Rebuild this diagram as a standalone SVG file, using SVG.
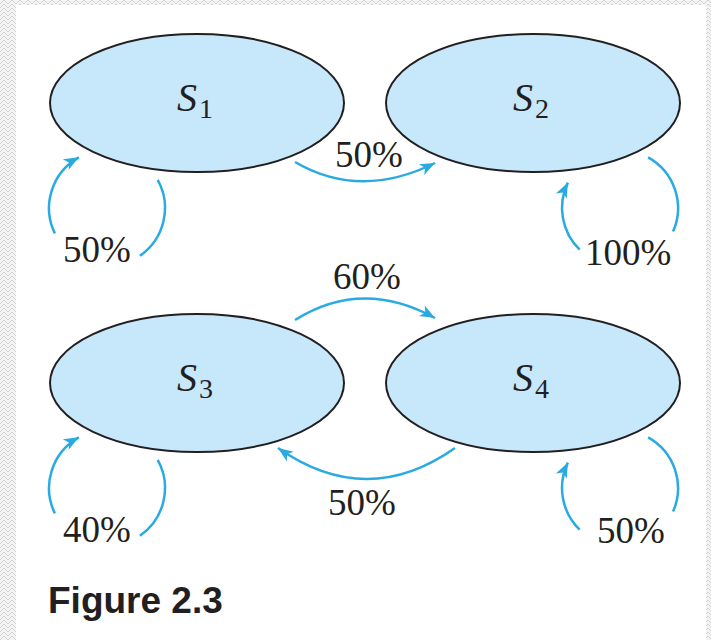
<svg xmlns="http://www.w3.org/2000/svg" width="711" height="640" viewBox="0 0 711 640">
  <defs>
    <pattern id="bg" width="8" height="8" patternUnits="userSpaceOnUse">
      <rect width="8" height="8" fill="#f4f4f4"/>
      <path d="M0,4 L4,0 L8,4 M0,8 L4,4 L8,8" fill="none" stroke="#d2d2d2" stroke-width="1"/>
    </pattern>
    <marker id="ah" markerWidth="18" markerHeight="14" refX="16" refY="7" orient="auto" markerUnits="userSpaceOnUse">
      <path d="M16,7 L1,1 L5,7 L1,13 Z" fill="#29abe2"/>
    </marker>
  </defs>
  <style>
    .state { fill: #c6e8fa; stroke: #231f20; stroke-width: 2; }
    .lbl { font-family: "Liberation Serif", "Times New Roman", serif; font-style: italic; font-size: 40px; fill: #231f20; }
    .sub { font-family: "Liberation Serif", "Times New Roman", serif; font-size: 28px; fill: #231f20; }
    .pct { font-family: "Liberation Serif", "Times New Roman", serif; font-size: 37px; fill: #231f20; }
    .edge { fill: none; stroke: #29abe2; stroke-width: 2.5; }
    .cap { font-family: "Liberation Sans", Arial, sans-serif; font-weight: bold; font-size: 37px; fill: #231f20; }
  </style>

  <rect x="0" y="0" width="711" height="640" fill="url(#bg)"/>
  <rect x="16" y="5" width="690" height="635" fill="#ffffff"/>

  <g id="S1">
    <ellipse class="state" cx="197" cy="103" rx="147" ry="69"/>
    <text class="lbl" x="177" y="111">S</text>
    <text class="sub" x="199" y="118">1</text>
  </g>
  <g id="S2">
    <ellipse class="state" cx="533" cy="103" rx="147" ry="69"/>
    <text class="lbl" x="513" y="111">S</text>
    <text class="sub" x="535" y="118">2</text>
  </g>
  <g id="S3">
    <ellipse class="state" cx="197" cy="383" rx="147" ry="69"/>
    <text class="lbl" x="177" y="391">S</text>
    <text class="sub" x="199" y="398">3</text>
  </g>
  <g id="S4">
    <ellipse class="state" cx="533" cy="383" rx="147" ry="69"/>
    <text class="lbl" x="513" y="391">S</text>
    <text class="sub" x="535" y="398">4</text>
  </g>

  <g id="connectors">
    <!-- S1 self loop -->
    <path class="edge" d="M157.7,179.9 A58,58 0 0 1 139.9,255.8"/>
    <path class="edge" d="M54.9,233.4 A58,58 0 0 1 78.9,157.3" marker-end="url(#ah)"/>
    <!-- S3 self loop -->
    <path class="edge" d="M157.7,459.9 A58,58 0 0 1 139.9,535.8"/>
    <path class="edge" d="M54.9,513.4 A58,58 0 0 1 78.9,437.3" marker-end="url(#ah)"/>
    <!-- S2 self loop -->
    <path class="edge" d="M648.1,157.3 A58,58 0 0 1 673.0,231.6"/>
    <path class="edge" d="M579.7,249.7 A58,58 0 0 1 567.9,182.6" marker-end="url(#ah)"/>
    <!-- S4 self loop -->
    <path class="edge" d="M648.1,437.3 A58,58 0 0 1 673.0,511.6"/>
    <path class="edge" d="M579.7,529.7 A58,58 0 0 1 567.9,462.6" marker-end="url(#ah)"/>
    <!-- S1 -> S2 -->
    <path class="edge" d="M295,162 Q360,200 435,163" marker-end="url(#ah)"/>
    <!-- S3 -> S4 -->
    <path class="edge" d="M295,320 Q362,278 435,318" marker-end="url(#ah)"/>
    <!-- S4 -> S3 -->
    <path class="edge" d="M455,448 Q367,510 278,448" marker-end="url(#ah)"/>

    <text class="pct" x="63" y="262">50%</text>
    <text class="pct" x="335" y="167">50%</text>
    <text class="pct" x="585" y="265">100%</text>
    <text class="pct" x="333" y="289">60%</text>
    <text class="pct" x="328" y="515">50%</text>
    <text class="pct" x="63" y="542">40%</text>
    <text class="pct" x="597" y="543">50%</text>
  </g>

  <text class="cap" x="48" y="613">Figure 2.3</text>
</svg>
